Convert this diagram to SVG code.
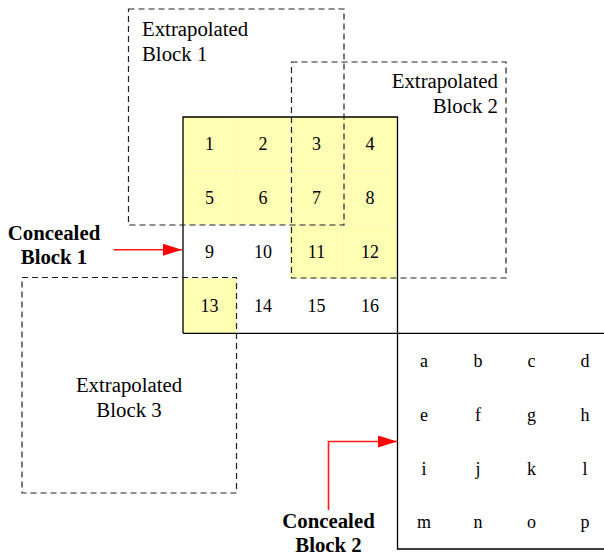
<svg xmlns="http://www.w3.org/2000/svg" width="604" height="555" viewBox="0 0 604 555">
  <style>
    .num { font-family: "Liberation Serif", "Times New Roman", serif; font-size: 18px; fill: #000; text-anchor: middle; }
    .lbl { font-family: "Liberation Serif", "Times New Roman", serif; font-size: 20.8px; fill: #000; }
    .bold { font-family: "Liberation Serif", "Times New Roman", serif; font-size: 20.8px; font-weight: bold; fill: #000; text-anchor: middle; }
    .hit { fill: #ffffb3; stroke: #fbf8c4; stroke-width: 0.8; }
    .solid { fill: none; stroke: #000; stroke-width: 1.3; }
    .dash { fill: none; stroke: #222; stroke-width: 1.2; stroke-dasharray: 6 4; }
    .red { fill: none; stroke: #ff1a1a; stroke-width: 1.6; }
  </style>
  <defs>
    <marker id="tip" markerWidth="19" markerHeight="12" refX="19" refY="6" orient="auto" markerUnits="userSpaceOnUse">
      <path d="M0,0 L19,6 L0,12 Z" fill="#ff0000"/>
    </marker>
  </defs>

  <rect width="604" height="555" fill="#fff"/>

  <!-- concealed block 1: 4x4 grid, highlighted cells -->
  <g id="concealed-block-1">
    <rect class="hit" x="183" y="117" width="53.5" height="53.8"/>
    <rect class="hit" x="236.5" y="117" width="53.5" height="53.8"/>
    <rect class="hit" x="290" y="117" width="53.5" height="53.8"/>
    <rect class="hit" x="343.5" y="117" width="53.5" height="53.8"/>
    <rect class="hit" x="183" y="170.8" width="53.5" height="53.8"/>
    <rect class="hit" x="236.5" y="170.8" width="53.5" height="53.8"/>
    <rect class="hit" x="290" y="170.8" width="53.5" height="53.8"/>
    <rect class="hit" x="343.5" y="170.8" width="53.5" height="53.8"/>
    <rect class="hit" x="290" y="224.6" width="53.5" height="53.8"/>
    <rect class="hit" x="343.5" y="224.6" width="53.5" height="53.8"/>
    <rect class="hit" x="183" y="278.4" width="53.5" height="54.6"/>
    <path class="solid" d="M183,333 V117 H397.5 V333"/>
    <text class="num" x="209.5" y="150">1</text>
    <text class="num" x="263" y="150">2</text>
    <text class="num" x="316.5" y="150">3</text>
    <text class="num" x="370" y="150">4</text>
    <text class="num" x="209.5" y="204">5</text>
    <text class="num" x="263" y="204">6</text>
    <text class="num" x="316.5" y="204">7</text>
    <text class="num" x="370" y="204">8</text>
    <text class="num" x="209.5" y="258">9</text>
    <text class="num" x="263" y="258">10</text>
    <text class="num" x="316.5" y="258">11</text>
    <text class="num" x="370" y="258">12</text>
    <text class="num" x="209.5" y="312">13</text>
    <text class="num" x="263" y="312">14</text>
    <text class="num" x="316.5" y="312">15</text>
    <text class="num" x="370" y="312">16</text>
  </g>

  <!-- concealed block 2 -->
  <g id="concealed-block-2">
    <path class="solid" d="M183,333.3 H604 M397.5,333.3 V549 H604"/>
    <text class="num" x="424" y="367">a</text>
    <text class="num" x="478" y="367">b</text>
    <text class="num" x="531.5" y="367">c</text>
    <text class="num" x="585" y="367">d</text>
    <text class="num" x="424" y="421">e</text>
    <text class="num" x="478" y="421">f</text>
    <text class="num" x="531.5" y="421">g</text>
    <text class="num" x="585" y="421">h</text>
    <text class="num" x="424" y="475">i</text>
    <text class="num" x="478" y="475">j</text>
    <text class="num" x="531.5" y="475">k</text>
    <text class="num" x="585" y="475">l</text>
    <text class="num" x="424" y="528">m</text>
    <text class="num" x="478" y="528">n</text>
    <text class="num" x="531.5" y="528">o</text>
    <text class="num" x="585" y="528">p</text>
  </g>

  <!-- extrapolated blocks (dashed) -->
  <g id="extrapolated-block-1">
    <rect class="dash" x="128.5" y="9" width="215.5" height="216"/>
    <text class="lbl" x="142" y="35.5">Extrapolated</text>
    <text class="lbl" x="142" y="60.5">Block 1</text>
  </g>
  <g id="extrapolated-block-2">
    <rect class="dash" x="291.5" y="62" width="214.5" height="216"/>
    <text class="lbl" x="498" y="87.5" text-anchor="end">Extrapolated</text>
    <text class="lbl" x="498" y="112.5" text-anchor="end">Block 2</text>
  </g>
  <g id="extrapolated-block-3">
    <rect class="dash" x="22" y="277.5" width="214.5" height="215.5"/>
    <text class="lbl" x="129" y="391.5" text-anchor="middle">Extrapolated</text>
    <text class="lbl" x="129" y="417" text-anchor="middle">Block 3</text>
  </g>

  <!-- pointer labels -->
  <g id="label-concealed-1">
    <text class="bold" x="54" y="239.5">Concealed</text>
    <text class="bold" x="54" y="264">Block 1</text>
  </g>
  <g id="label-concealed-2">
    <text class="bold" x="328.5" y="528">Concealed</text>
    <text class="bold" x="328.5" y="551.5">Block 2</text>
  </g>

  <g id="connectors">
    <path class="red" d="M113.5,249.8 H182" marker-end="url(#tip)"/>
    <path class="red" d="M328.5,510 V441.5 H397" marker-end="url(#tip)"/>
  </g>
</svg>
